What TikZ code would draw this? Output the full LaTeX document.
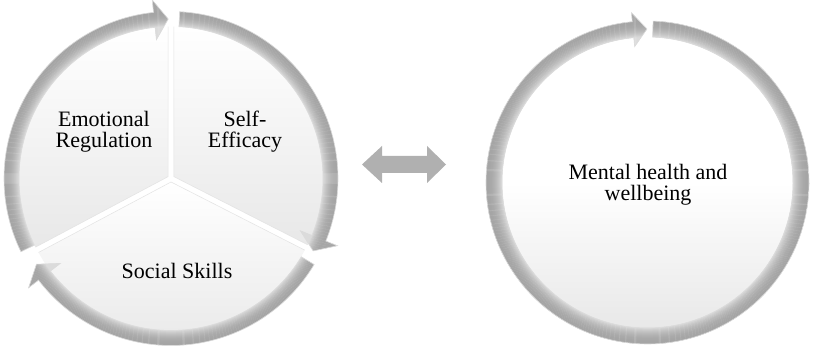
\documentclass[tikz,border=0pt]{standalone}
\usepackage{fontspec}
\setmainfont{Liberation Serif}
\usetikzlibrary{calc}
\definecolor{edgec}{gray}{0.86}
\definecolor{piedge}{gray}{0.89}
\definecolor{dblc}{gray}{0.69}
\definecolor{pielow}{gray}{0.91}
% ring arrow: #1 start angle, #2 tip angle, #3 mid radius, #4 half band, #5 half head, #6 head length (deg)
\newcommand\ringarrow[6]{%
  \pgfmathsetmacro\ao{#3+#4}\pgfmathsetmacro\ai{#3-#4}%
  \pgfmathsetmacro\ho{#3+#5}\pgfmathsetmacro\hi{#3-#5}%
  \pgfmathsetmacro\eh{#2+#6}%
  \pgfmathsetmacro\rlo{int(#3-#5-1)}\pgfmathsetmacro\rnx{int(#3-#5)}\pgfmathsetmacro\rhi{int(#3+#5+1)}%
  \def\arrowshape{(#1:\ao) arc[start angle=#1, end angle=\eh, radius=\ao] -- (\eh:\ho) -- (#2:#3) -- (\eh:\hi) -- (\eh:\ai) arc[start angle=\eh, end angle=#1, radius=\ai] -- cycle}%
  \begin{scope}
    \clip \arrowshape;
    \foreach \r in {\rlo,\rnx,...,\rhi} {
      \pgfmathsetmacro\t{max(-1,min(1,(\r-#3)/#4))}
      \pgfmathsetmacro\g{0.695-0.105*\t+0.06*\t*\t}
      \definecolor{bandc}{gray}{\g}
      \draw[bandc, line width=1.3pt] (0,0) circle[radius=\r];
    }
  \end{scope}
  \draw[edgec, line width=0.6pt] \arrowshape;
}
\newcommand\piesector[2]{%
  \pgfmathsetmacro\bis{(#1+#2)/2}%
  \begin{scope}[shift={(\bis:3.5)}]
    \shade[top color=white, bottom color=pielow] (0,0) -- (#1:150) arc[start angle=#1, end angle=#2, radius=150] -- cycle;
    \draw[piedge, line width=0.5pt] (#2:150) -- (0,0) -- (#1:150);
  \end{scope}
}
\tikzset{lbl/.style={font=\fontsize{22}{21}\selectfont, align=center, inner sep=0pt, text=black}}
\begin{document}
\begin{tikzpicture}[x=1pt, y=1pt]
  \useasboundingbox (0,0) rectangle (814,347);
  \fill[white] (0,0) rectangle (814,347);

  % left cycle
  \begin{scope}[shift={(171,168.5)}]
    \piesector{90}{208}
    \piesector{-27}{90}
    \piesector{208}{333}
    \ringarrow{206}{91}{159.5}{7.5}{20}{5}
    \ringarrow{87}{-27}{159.5}{7.5}{20}{5}
    \ringarrow{-31}{-147.5}{159.5}{7.5}{20}{5}
  \end{scope}

  % right cycle
  \begin{scope}[shift={(647.5,164.5)}]
    \shade[top color=white, bottom color=pielow, middle color=white] (0,0) circle[radius=146];
    \ringarrow{88}{-269.8}{153.5}{8}{17}{5.2}
  \end{scope}

  % double arrow
  \fill[dblc] (362,182.5) -- (382,201) -- (382,191) -- (427,191) -- (427,201) -- (446,182.5)
     -- (427,164) -- (427,174) -- (382,174) -- (382,164) -- cycle;

  \node[lbl] (er) at (104,214.9) {Emotional\\Regulation};
  \node[lbl] (se) at (245,214.9) {Self-\\Efficacy};
  \node[lbl, anchor=base] (ss) at (177,68.7) {Social Skills};
  \node[lbl] (mh) at (648,162.1) {Mental health and\\wellbeing};
\end{tikzpicture}
\end{document}
